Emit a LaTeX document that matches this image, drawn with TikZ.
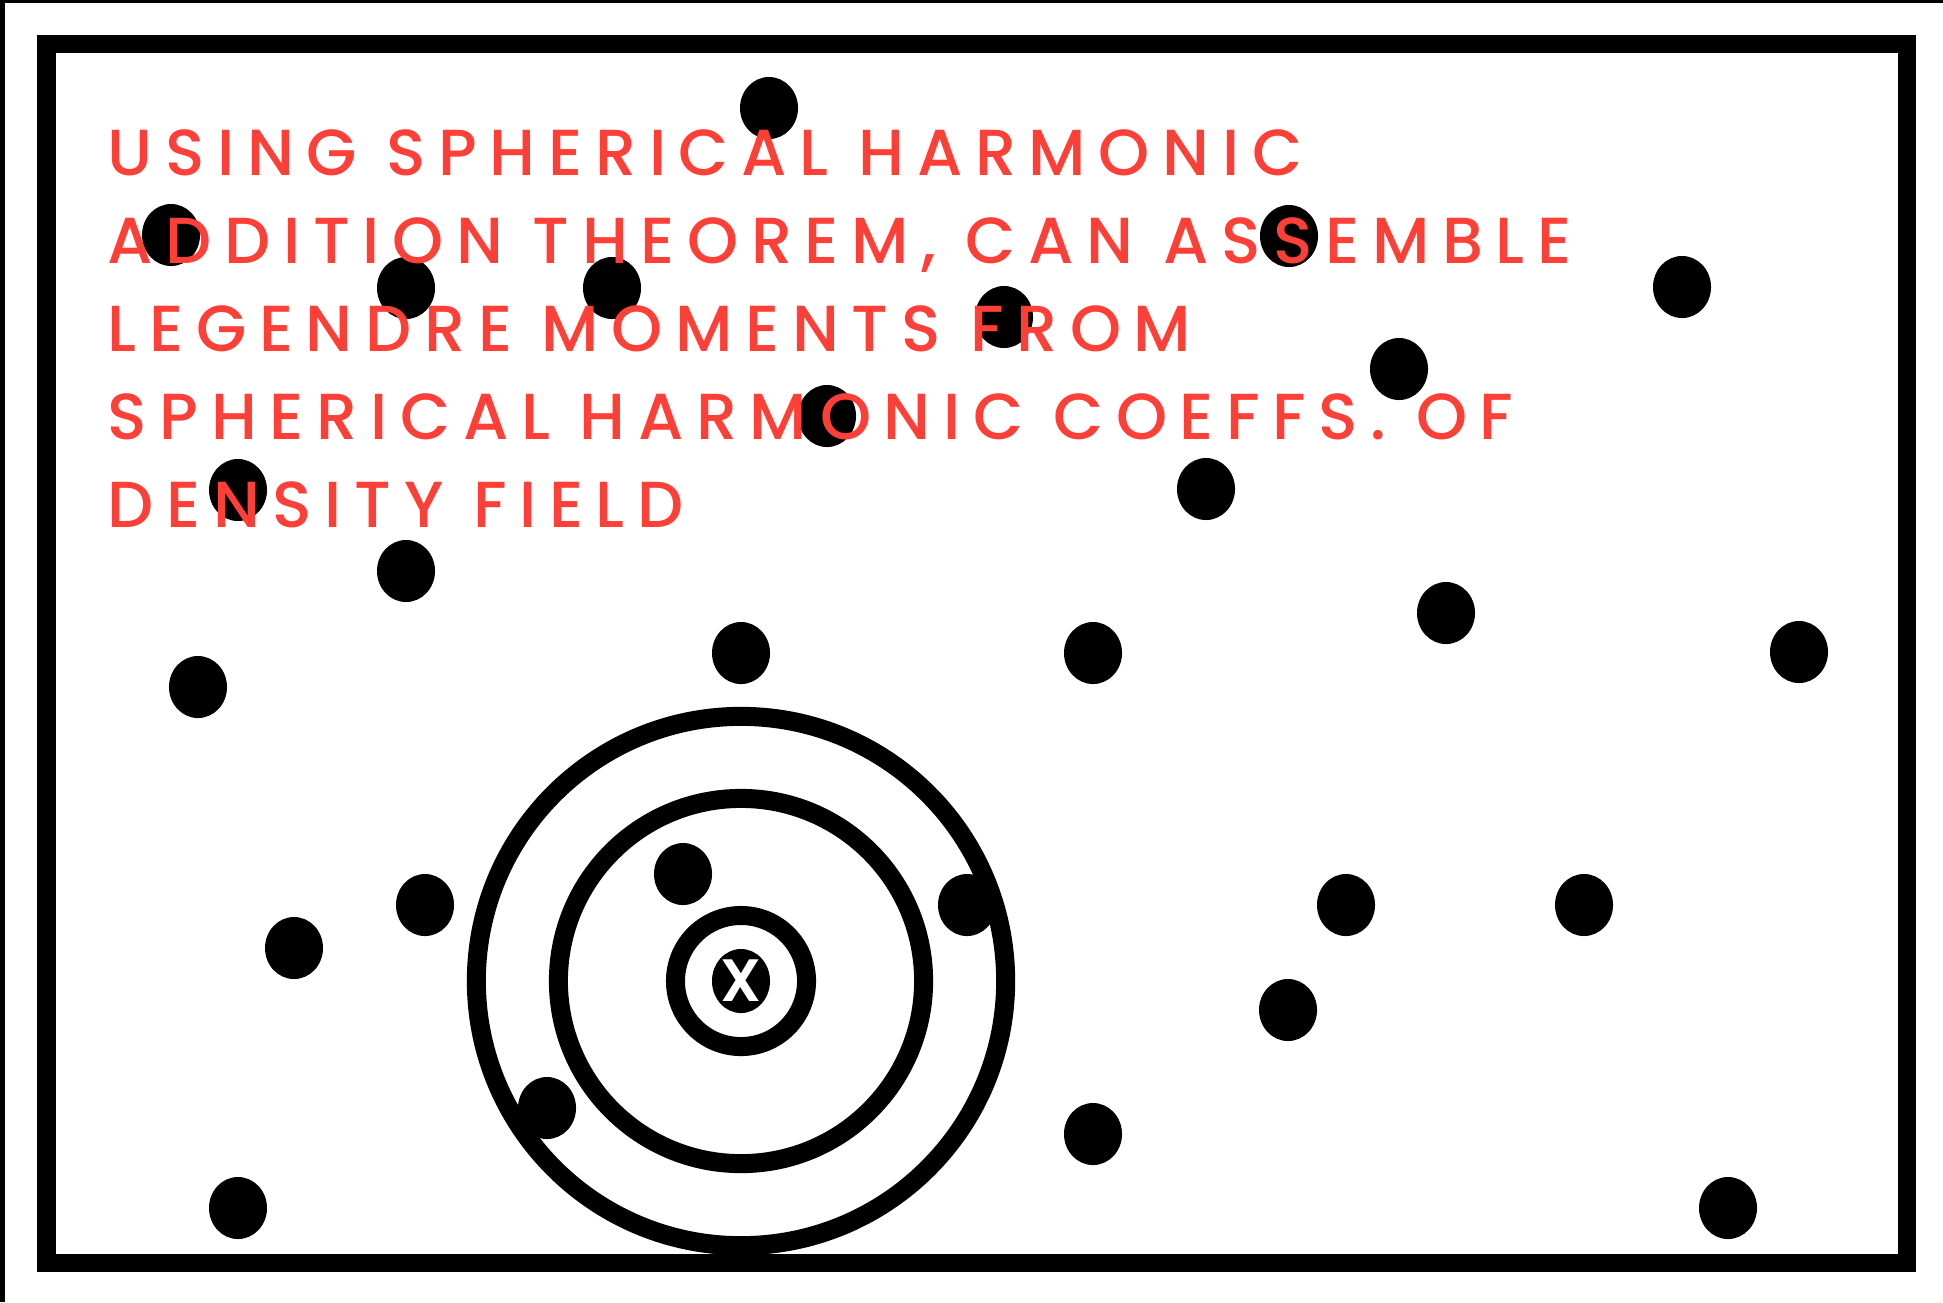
\documentclass[tikz,border=0pt]{standalone}
\usepackage{fontspec}
\usetikzlibrary{shapes.geometric}
\newfontfamily\capfont{Poppins}[UprightFont=* Medium, LetterSpace=19.5]
\newfontfamily\markfont{Poppins}[UprightFont=* SemiBold]
\definecolor{notered}{RGB}{252,64,56}

\begin{document}
\begin{tikzpicture}[x=0.01cm, y=-0.01cm,
    dot/.style={fill=black},
    ring/.style={draw=black, line width=0.19cm},
    every node/.style={inner sep=0}]
    \useasboundingbox (0,0) rectangle (1943,1302);
    % screen edges
    \fill[black] (0,0) rectangle (1943,3);
    \fill[black] (0,0) rectangle (5,1302);
    % box
    \draw[line width=0.185cm] (46.5,44) rectangle (1907,1263);
    % particles
    \foreach \px/\py in {769/108, 171/235, 406/288, 612/288, 1289/236, 1004/317,
        1682/287, 1399/369, 827/416, 238/490, 1206/489, 406/571, 1446/613,
        198/687, 741/653, 1093/653, 1799/652, 683/874, 425/905, 294/948,
        967/905, 1346/905, 1584/905, 1288/1010, 547/1108, 1093/1134,
        238/1208, 1728/1208}
        \fill[dot] (\px,\py) ellipse [x radius=0.29cm, y radius=0.31cm];
    % central point and shells
    \node[ellipse, fill=black, minimum width=0.58cm, minimum height=0.64cm,
        text=white, font=\markfont\fontsize{17}{17}\selectfont] (centre) at (741,981) {X};
    \draw[ring] (centre) circle [radius=0.655cm];
    \draw[ring] (centre) circle [radius=1.825cm];
    \draw[ring] (centre) circle [radius=2.645cm];
    % caption
    \node[anchor=north west, align=left, text=notered,
        font=\capfont\fontsize{18.5}{25.04}\selectfont] (caption) at (107,129)
        {USING SPHERICAL HARMONIC\\
         ADDITION THEOREM, CAN ASSEMBLE\\
         LEGENDRE MOMENTS FROM\\
         SPHERICAL HARMONIC COEFFS. OF\\
         DENSITY FIELD};
\end{tikzpicture}
\end{document}
